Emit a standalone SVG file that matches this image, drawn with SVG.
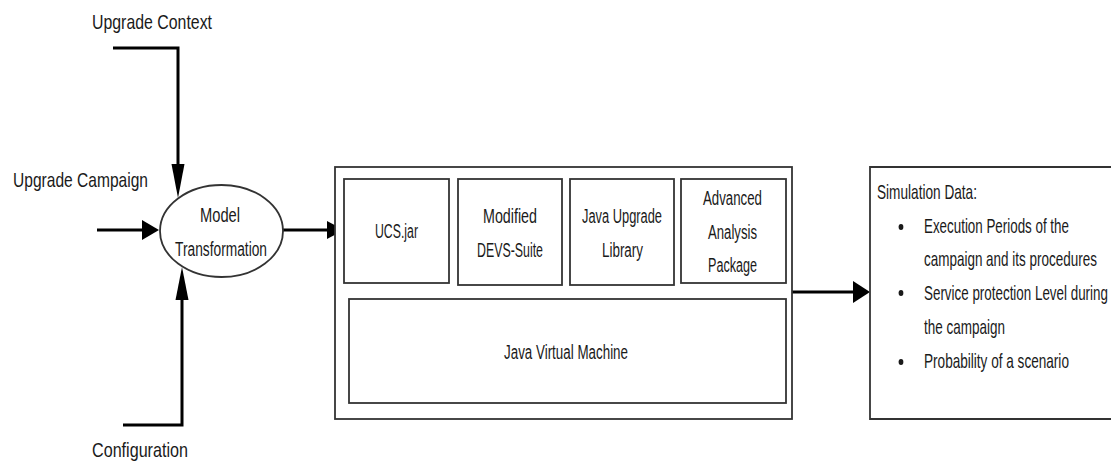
<svg xmlns="http://www.w3.org/2000/svg" width="1111" height="466" viewBox="0 0 1111 466">
  <style>
    text { font-family: "Liberation Sans", Arial, sans-serif; fill: #1a1a1a; }
    .lbl { font-size: 21px; }
    .in { font-size: 20px; }
    .box { fill: #ffffff; stroke: #333333; stroke-width: 1.8; }
    .wire { fill: none; stroke: #000000; stroke-width: 3; }
    .head { fill: #000000; }
  </style>
  <rect width="1111" height="466" fill="#ffffff"/>

  <!-- input labels -->
  <text class="lbl" x="92" y="29" textLength="120" lengthAdjust="spacingAndGlyphs">Upgrade Context</text>
  <text class="lbl" x="13" y="187" textLength="135" lengthAdjust="spacingAndGlyphs">Upgrade Campaign</text>
  <text class="lbl" x="92" y="457" textLength="96" lengthAdjust="spacingAndGlyphs">Configuration</text>

  <g id="connectors">
    <!-- Upgrade Context -->
    <polyline class="wire" points="113,48 178,48 178,166"/>
    <polygon class="head" points="171.5,164 184.5,164 178,198"/>
    <!-- Upgrade Campaign -->
    <line class="wire" x1="97" y1="230" x2="144" y2="230"/>
    <polygon class="head" points="142,220 142,240 159,230"/>
    <!-- Configuration -->
    <polyline class="wire" points="123,425 182,425 182,298"/>
    <polygon class="head" points="175.5,300 188.5,300 182,267"/>
    <!-- Model Transformation to UCS.jar -->
    <line class="wire" x1="283" y1="230" x2="329" y2="230"/>
    <polygon class="head" points="327,221 327,239 344,230"/>
    <!-- runtime to Simulation Data -->
    <line class="wire" x1="792" y1="292" x2="855" y2="292"/>
    <polygon class="head" points="853,281 853,303 870,292"/>
  </g>

  <g id="model-transformation">
    <ellipse cx="221.5" cy="231" rx="61.5" ry="46" fill="#ffffff" stroke="#333333" stroke-width="1.8"/>
    <text class="in" x="200" y="222" textLength="40" lengthAdjust="spacingAndGlyphs">Model</text>
    <text class="in" x="175" y="256" textLength="92" lengthAdjust="spacingAndGlyphs">Transformation</text>
  </g>

  <g id="runtime">
    <rect class="box" x="335" y="167" width="457" height="252"/>
  </g>

  <g id="ucs-jar">
    <rect class="box" x="344" y="179" width="105" height="104"/>
    <text class="in" x="375" y="238" textLength="43" lengthAdjust="spacingAndGlyphs">UCS.jar</text>
  </g>

  <g id="modified-devs-suite">
    <rect class="box" x="458" y="179" width="104" height="106"/>
    <text class="in" x="483" y="223" textLength="54" lengthAdjust="spacingAndGlyphs">Modified</text>
    <text class="in" x="477" y="257" textLength="66" lengthAdjust="spacingAndGlyphs">DEVS-Suite</text>
  </g>

  <g id="java-upgrade-library">
    <rect class="box" x="570" y="179" width="104" height="106"/>
    <text class="in" x="582" y="223" textLength="80" lengthAdjust="spacingAndGlyphs">Java Upgrade</text>
    <text class="in" x="602" y="257" textLength="41" lengthAdjust="spacingAndGlyphs">Library</text>
  </g>

  <g id="advanced-analysis-package">
    <rect class="box" x="681" y="179" width="105" height="104"/>
    <text class="in" x="703" y="205" textLength="59" lengthAdjust="spacingAndGlyphs">Advanced</text>
    <text class="in" x="708" y="239" textLength="49" lengthAdjust="spacingAndGlyphs">Analysis</text>
    <text class="in" x="708" y="272" textLength="49" lengthAdjust="spacingAndGlyphs">Package</text>
  </g>

  <g id="java-virtual-machine">
    <rect class="box" x="349" y="299" width="437" height="104"/>
    <text class="in" x="504" y="359" textLength="124" lengthAdjust="spacingAndGlyphs">Java Virtual Machine</text>
  </g>

  <g id="simulation-data">
    <!-- box runs on past the right edge of the canvas -->
    <path class="box" d="M1111,167 H870 V419 H1111"/>
    <ellipse cx="901" cy="227" rx="2.4" ry="3" fill="#1a1a1a"/>
    <ellipse cx="901" cy="293" rx="2.4" ry="3" fill="#1a1a1a"/>
    <ellipse cx="901" cy="362" rx="2.4" ry="3" fill="#1a1a1a"/>
    <!-- condensed text block, origin at the bullet text column -->
    <g transform="translate(924,0) scale(0.65,1)">
      <text class="in" x="-72.3" y="199" textLength="153.8" lengthAdjust="spacingAndGlyphs">Simulation Data:</text>
      <text class="in" x="0" y="233" textLength="223" lengthAdjust="spacingAndGlyphs">Execution Periods of the</text>
      <text class="in" x="0" y="266" textLength="266" lengthAdjust="spacingAndGlyphs">campaign and its procedures</text>
      <text class="in" x="0" y="300" textLength="283" lengthAdjust="spacingAndGlyphs">Service protection Level during</text>
      <text class="in" x="0" y="334" textLength="124.6" lengthAdjust="spacingAndGlyphs">the campaign</text>
      <text class="in" x="0" y="368" textLength="223" lengthAdjust="spacingAndGlyphs">Probability of a scenario</text>
    </g>
  </g>
</svg>
